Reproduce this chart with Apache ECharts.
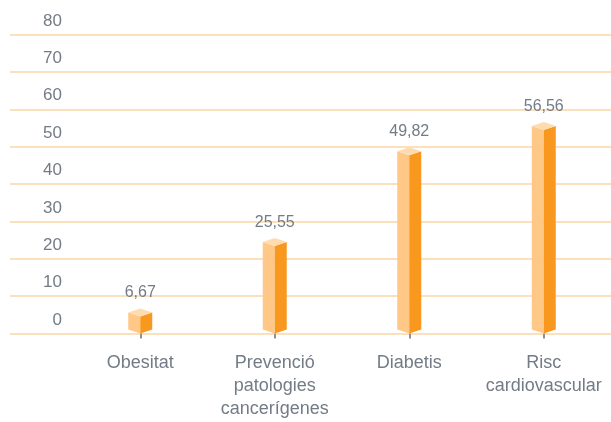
<!DOCTYPE html>
<html><head><meta charset="utf-8">
<script src="https://cdn.jsdelivr.net/npm/echarts@6/dist/echarts.min.js"></script>
<style>html,body{margin:0;padding:0;background:#fff}#c{width:611px;height:422px}</style>
</head><body><div id="c"></div>
<script>
const categories = ['Obesitat', 'Prevenció\npatologies\ncancerígenes', 'Diabetis', 'Risc\ncardiovascular'];
const values = [6.67, 25.55, 49.82, 56.56];
const valueLabels = ['6,67', '25,55', '49,82', '56,56'];
const yMin = 0, yMax = 80, yStep = 10;

const chart = echarts.init(document.getElementById('c'));
const TOP = 34.5, BOTTOM = 88.5;
const textColor = '#737b86';
const gridColor = '#fbd6a4';

chart.setOption({
  animation: false,
  grid: [
    {left: 10, right: 0, top: TOP, bottom: BOTTOM},
    {left: 73, right: -6, top: TOP, bottom: BOTTOM}
  ],
  xAxis: [
    {gridIndex: 0, type: 'value', min: 0, max: 1, show: false},
    {gridIndex: 1, type: 'category', data: categories, offset: 3,
     axisLine: {show: false},
     axisTick: {show: true, alignWithLabel: true, length: 5, lineStyle: {color: '#8a939c', width: 2}},
     axisLabel: {margin: 15, fontFamily: 'Liberation Sans, Arial, sans-serif', fontSize: 18, lineHeight: 23, color: textColor, interval: 0}
    }
  ],
  yAxis: [
    {gridIndex: 0, type: 'value', min: yMin, max: yMax, interval: yStep,
     axisLine: {show: false}, axisTick: {show: false}, axisLabel: {show: false},
     splitLine: {show: true, lineStyle: {color: gridColor, width: 1.5}}},
    {gridIndex: 1, type: 'value', min: yMin, max: yMax, interval: yStep,
     axisLine: {show: false}, axisTick: {show: false}, splitLine: {show: false},
     axisLabel: {margin: 11, fontFamily: 'Liberation Sans, Arial, sans-serif', fontSize: 17, color: textColor, verticalAlign: 'bottom', lineHeight: 27}}
  ],
  series: [{
    type: 'custom',
    xAxisIndex: 1, yAxisIndex: 1,
    data: values.map((v, i) => [i, v]),
    renderItem: function (params, api) {
      const idx = api.value(0), val = api.value(1);
      const top = api.coord([idx, val]);
      const base = api.coord([idx, 0]);
      const cx = top[0], yt = top[1], yb = base[1];
      const w = 12, d = 4;
      return {
        type: 'group',
        children: [
          {type: 'polygon', shape: {points: [[cx - w, yt + d], [cx, yt + 2 * d], [cx, yb], [cx - w, yb - d]]}, style: {fill: '#ffc886'}},
          {type: 'polygon', shape: {points: [[cx, yt + 2 * d], [cx + w, yt + d], [cx + w, yb - d], [cx, yb]]}, style: {fill: '#f8981e'}},
          {type: 'polygon', shape: {points: [[cx, yt], [cx + w, yt + d], [cx, yt + 2 * d], [cx - w, yt + d]]}, style: {fill: '#ffdcb0'}},
          {type: 'text', x: cx, y: yt - 15.5, style: {text: valueLabels[params.dataIndex], fill: textColor, font: '16px "Liberation Sans", Arial, sans-serif', align: 'center', verticalAlign: 'middle'}}
        ]
      };
    }
  }]
});
</script></body></html>
